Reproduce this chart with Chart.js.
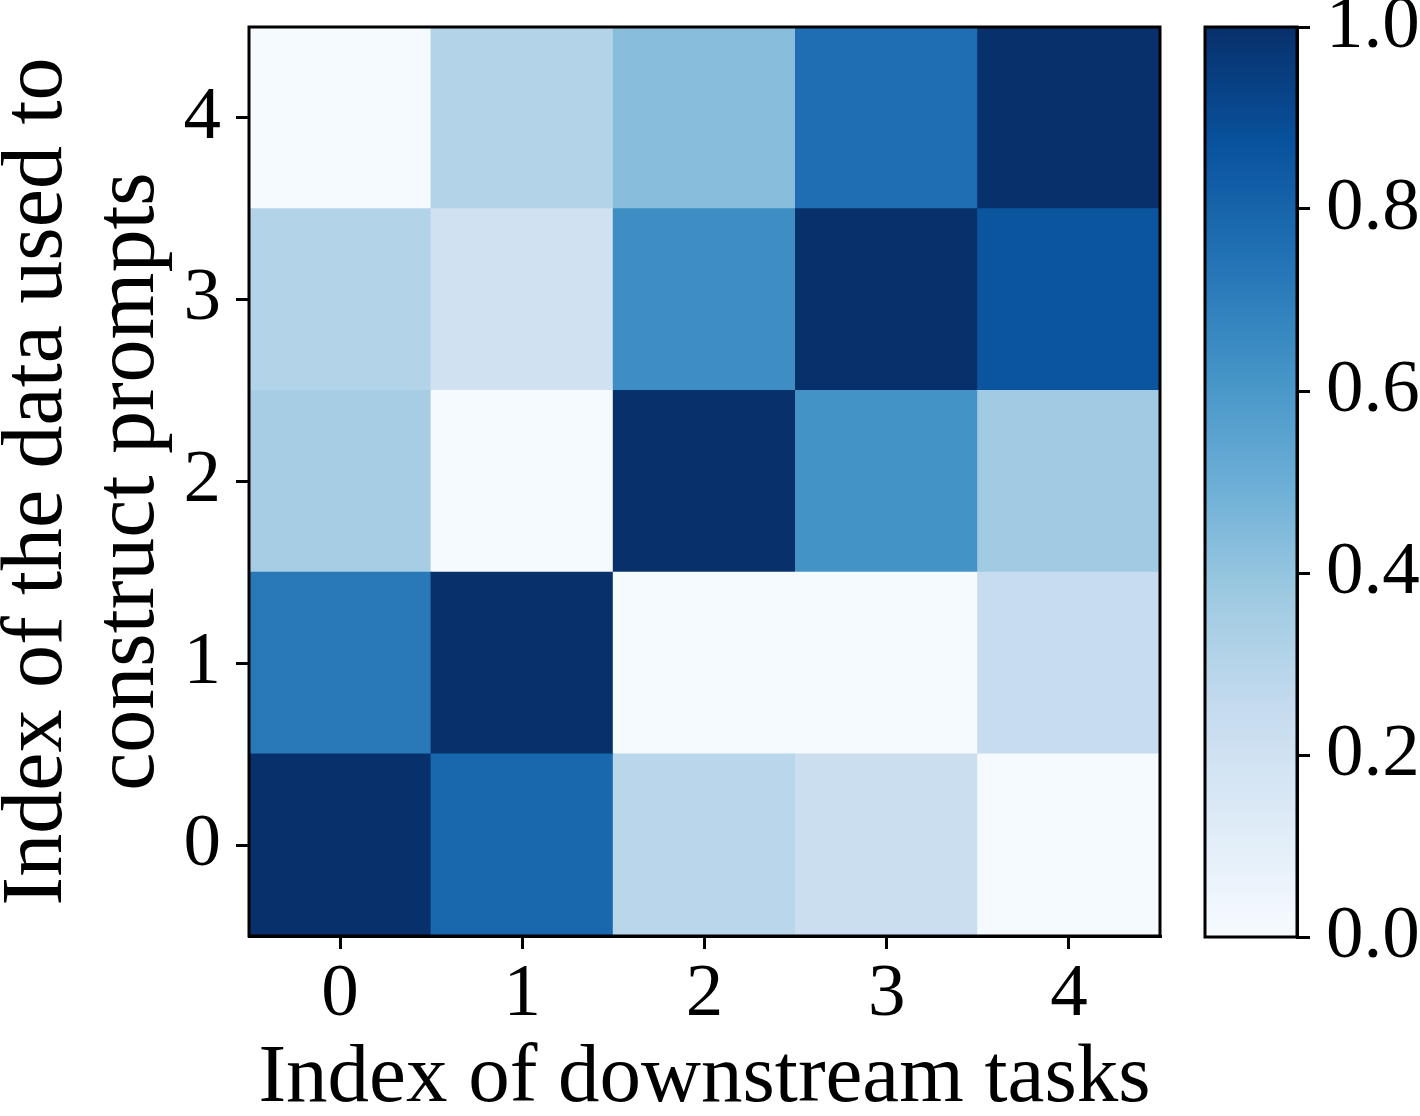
<!DOCTYPE html>
<html>
<head>
<meta charset="utf-8">
<script src="https://cdn.jsdelivr.net/npm/chart.js@4.4.1/dist/chart.umd.min.js"></script>
<style>
    body { margin: 0; background: #ffffff; }
    #heatmap { position: absolute; left: 0; top: 0; }
    #colorbar { position: absolute; left: 1190px; top: 0; }
</style>
</head>
<body>
<canvas id="heatmap" width="1190" height="1116"></canvas>
<canvas id="colorbar" width="230" height="1116"></canvas>
<script>
// x: downstream task index, y: index of the data used to construct prompts
const task_labels = ["0", "1", "2", "3", "4"];
const prompt_indices = [0, 1, 2, 3, 4];

const prompt_0 = [1.00, 0.79, 0.29, 0.23, 0.01];
const prompt_1 = [0.72, 1.00, 0.01, 0.01, 0.24];
const prompt_2 = [0.35, 0.01, 1.00, 0.62, 0.37];
const prompt_3 = [0.31, 0.20, 0.64, 1.00, 0.86];
const prompt_4 = [0.01, 0.31, 0.43, 0.76, 1.00];
const prompt_rows = [prompt_0, prompt_1, prompt_2, prompt_3, prompt_4];

const colorbar_ticks = [0.0, 0.2, 0.4, 0.6, 0.8, 1.0];

// matplotlib "Blues"
const blues_stops = ["#f7fbff", "#deebf7", "#c6dbef", "#9ecae1", "#6baed6", "#4292c6", "#2171b5", "#08519c", "#08306b"];

Chart.defaults.font.family = "'Liberation Serif', 'Times New Roman', serif";
Chart.defaults.color = "#000000";

const tick_font = { size: 75, lineHeight: 1.2 };

function hexToRgb(hex) {
    const n = parseInt(hex.slice(1), 16);
    return [(n >> 16) & 255, (n >> 8) & 255, n & 255];
}

function bluesColor(value) {
    const t = Math.min(Math.max(value, 0), 1) * (blues_stops.length - 1);
    const i = Math.min(Math.floor(t), blues_stops.length - 2);
    const f = t - i;
    const a = hexToRgb(blues_stops[i]);
    const b = hexToRgb(blues_stops[i + 1]);
    const c = a.map((v, k) => Math.round(v + (b[k] - v) * f));
    return `rgb(${c[0]}, ${c[1]}, ${c[2]})`;
}

// black frame around the plot area, drawn over the cells
const frame_plugin = {
    id: "frame",
    afterDatasetsDraw(chart) {
        const { ctx, chartArea } = chart;
        ctx.save();
        ctx.strokeStyle = "#000000";
        ctx.lineWidth = 3;
        ctx.strokeRect(chartArea.left, chartArea.top, chartArea.right - chartArea.left, chartArea.bottom - chartArea.top);
        ctx.restore();
    }
};

const tick_grid = {
    display: true,
    offset: false,
    drawOnChartArea: false,
    drawTicks: true,
    tickLength: 13,
    tickWidth: 3,
    lineWidth: 3,
    tickColor: "#000000",
    color: "#000000"
};

// keep the plot box where it is: no extra room for the outer tick labels
function fixWidth(w) {
    return (scale) => { scale.width = w; scale.paddingTop = 0; scale.paddingBottom = 0; };
}

new Chart("heatmap", {
    type: "bar",
    data: {
        labels: task_labels,
        datasets: prompt_rows.map((row, r) => ({
            label: "prompt data " + prompt_indices[r],
            data: row.map(() => [prompt_indices[r] - 0.5, prompt_indices[r] + 0.5]),
            backgroundColor: row.map(bluesColor),
            borderWidth: 0,
            inflateAmount: 0.6,
            grouped: false,
            barPercentage: 1,
            categoryPercentage: 1
        }))
    },
    options: {
        responsive: false,
        animation: false,
        devicePixelRatio: 1,
        layout: { padding: { left: 0, top: 27, right: 30, bottom: 0 } },
        plugins: { legend: { display: false }, tooltip: { enabled: false } },
        scales: {
            x: {
                grid: tick_grid,
                border: { display: true, color: "#000000", width: 3 },
                ticks: { font: tick_font, padding: 1 },
                title: {
                    display: true,
                    text: "Index of downstream tasks",
                    font: { size: 83, lineHeight: 1 },
                    padding: { top: 0, bottom: -4.5 }
                },
                afterFit: (scale) => { scale.height = 180; scale.paddingLeft = 0; scale.paddingRight = 0; }
            },
            y: {
                type: "linear",
                min: -0.5,
                max: 4.5,
                afterBuildTicks: (scale) => { scale.ticks = prompt_indices.map(v => ({ value: v })); },
                grid: tick_grid,
                border: { display: true, color: "#000000", width: 3 },
                ticks: { font: tick_font, padding: 15, callback: (v) => String(v) },
                title: {
                    display: true,
                    text: ["Index of the data used to", "construct prompts"],
                    font: { size: 86, lineHeight: 1.07 },
                    padding: { top: -8, bottom: 0 }
                },
                afterFit: fixWidth(249)
            }
        }
    },
    plugins: [frame_plugin]
});

new Chart("colorbar", {
    type: "bar",
    data: {
        labels: ["Blues"],
        datasets: [{
            data: [[colorbar_ticks[0], colorbar_ticks[colorbar_ticks.length - 1]]],
            backgroundColor: (context) => {
                const chart = context.chart;
                if (!chart.chartArea) return blues_stops[4];
                const y = chart.scales.y;
                const g = chart.ctx.createLinearGradient(0, y.getPixelForValue(0), 0, y.getPixelForValue(1));
                blues_stops.forEach((c, i) => g.addColorStop(i / (blues_stops.length - 1), c));
                return g;
            },
            borderWidth: 0,
            inflateAmount: 0,
            barPercentage: 1,
            categoryPercentage: 1
        }]
    },
    options: {
        responsive: false,
        animation: false,
        devicePixelRatio: 1,
        layout: { padding: { left: 15, top: 27, right: 0, bottom: 179 } },
        plugins: { legend: { display: false }, tooltip: { enabled: false } },
        scales: {
            x: { display: false },
            y: {
                position: "right",
                min: 0,
                max: 1,
                afterBuildTicks: (scale) => { scale.ticks = colorbar_ticks.map(v => ({ value: v })); },
                grid: tick_grid,
                border: { display: true, color: "#000000", width: 3 },
                ticks: { font: tick_font, padding: 16, callback: (v) => v.toFixed(1) },
                afterFit: fixWidth(123)
            }
        }
    },
    plugins: [frame_plugin]
});
</script>
</body>
</html>
